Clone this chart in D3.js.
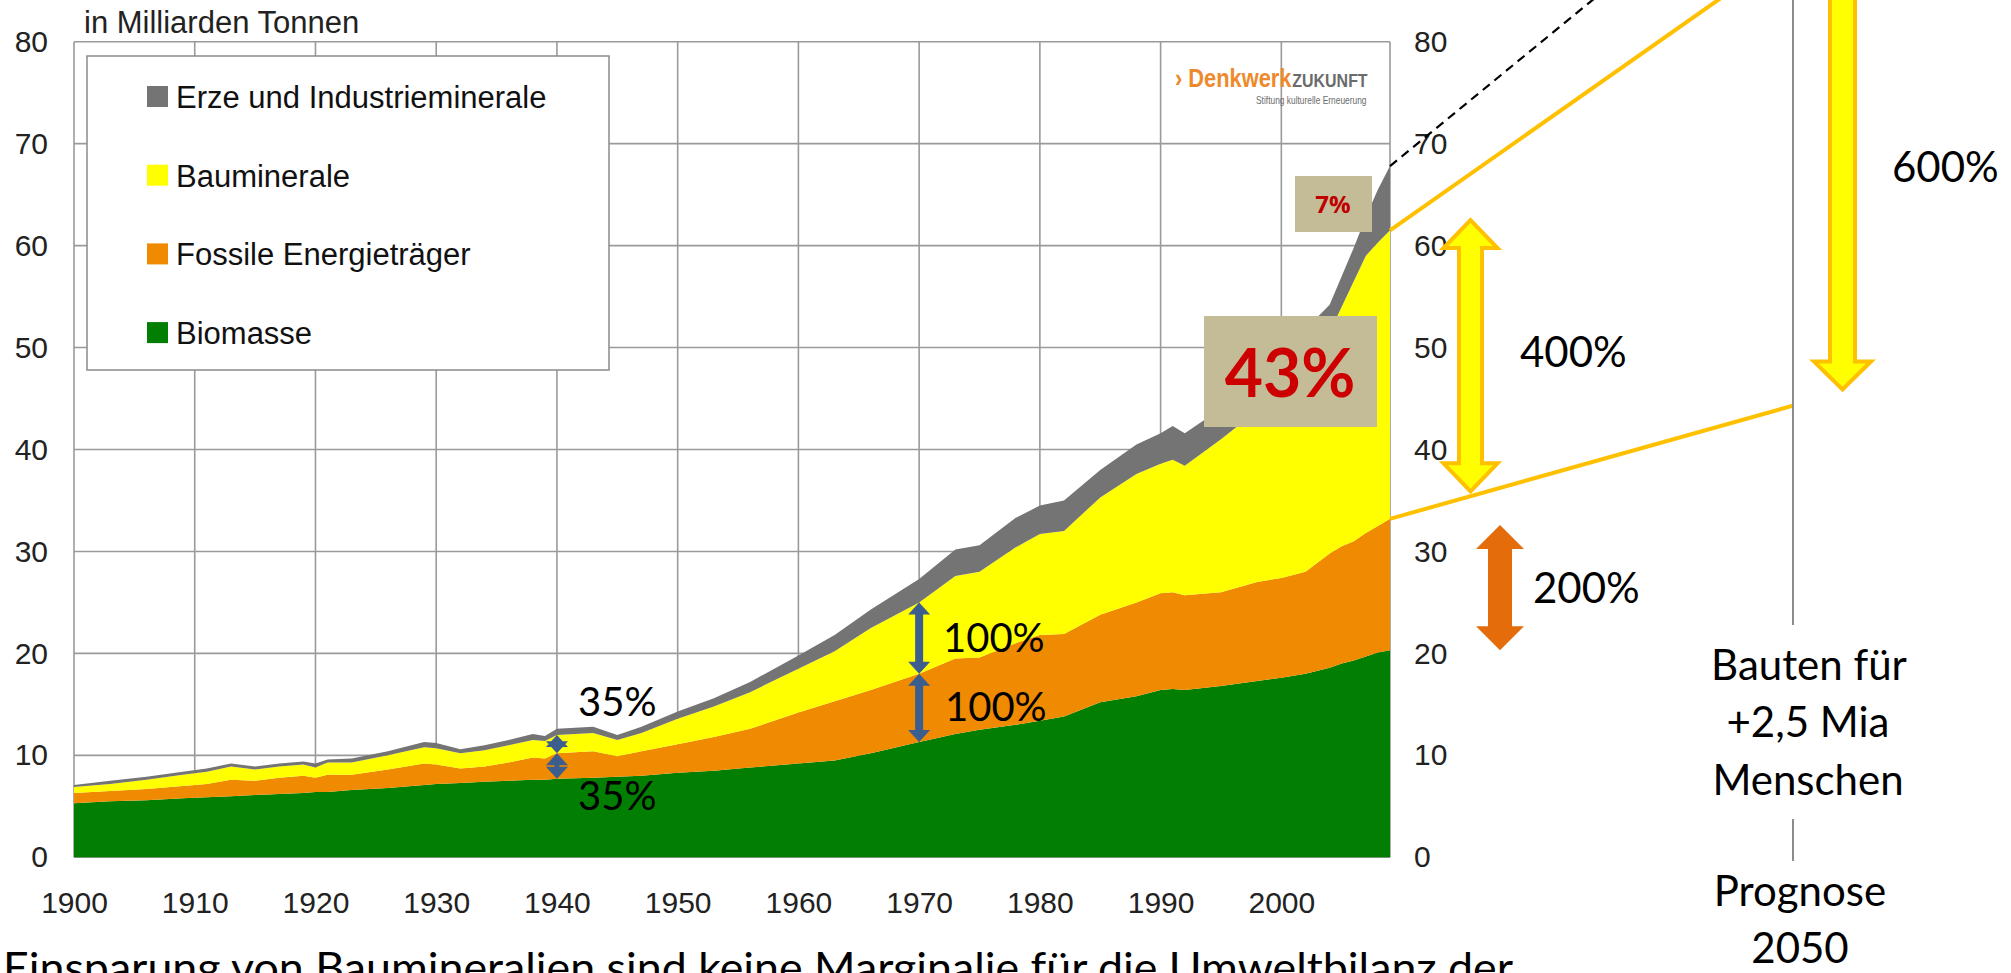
<!DOCTYPE html>
<html>
<head>
<meta charset="utf-8">
<script src="https://cdn.jsdelivr.net/npm/d3@7"></script>
<style>
  html, body { margin: 0; padding: 0; background: #fff; overflow: hidden; }
  svg { display: block; }
</style>
</head>
<body>
<div id="vis"></div>
<script>
// frame
const FRAME_WIDTH = 2011;
const FRAME_HEIGHT = 973;

// data (Milliarden Tonnen)
const years = [1900, 1903, 1906, 1909, 1911, 1913, 1915, 1917, 1919, 1920, 1921, 1923, 1926, 1929, 1930,
  1932, 1934, 1936, 1938, 1939, 1940, 1943, 1945, 1947, 1950, 1953, 1956, 1960, 1963, 1966,
  1970, 1973, 1975, 1978, 1980, 1982, 1985, 1988, 1990, 1991, 1992, 1995, 1998, 2000, 2002,
  2004, 2005, 2006, 2007, 2008, 2009];
const biomasse = [5.3, 5.5, 5.6, 5.8, 5.9, 6.0, 6.1, 6.2, 6.3, 6.4, 6.4, 6.6, 6.8, 7.1, 7.2,
  7.3, 7.4, 7.5, 7.6, 7.6, 7.7, 7.8, 7.9, 8.0, 8.3, 8.5, 8.8, 9.2, 9.5, 10.2,
  11.3, 12.1, 12.5, 13.0, 13.4, 13.8, 15.2, 15.8, 16.4, 16.5, 16.4, 16.8, 17.3, 17.6, 18.0,
  18.6, 19.0, 19.3, 19.7, 20.1, 20.3];
const fossile = [1.0, 1.0, 1.1, 1.2, 1.3, 1.6, 1.4, 1.6, 1.7, 1.4, 1.7, 1.5, 1.8, 2.1, 1.9,
  1.4, 1.5, 1.8, 2.2, 2.1, 2.5, 2.6, 2.0, 2.4, 2.8, 3.3, 3.8, 5.0, 5.8, 6.2,
  6.7, 7.4, 7.1, 8.0, 8.4, 8.1, 8.6, 9.2, 9.5, 9.5, 9.3, 9.2, 9.7, 9.8, 10.0,
  11.2, 11.5, 11.7, 12.1, 12.4, 12.9];
const baumineralien = [0.6, 0.7, 0.9, 1.1, 1.2, 1.3, 1.1, 1.1, 1.1, 1.0, 1.2, 1.2, 1.4, 1.6, 1.6,
  1.5, 1.6, 1.7, 1.7, 1.7, 1.8, 1.8, 1.6, 1.8, 2.5, 3.0, 3.6, 4.3, 4.9, 6.1,
  7.0, 8.1, 8.4, 9.4, 9.9, 10.1, 11.5, 12.6, 12.7, 13.0, 12.7, 15.0, 16.8, 18.1, 20.0,
  21.7, 23.5, 25.5, 27.2, 27.8, 28.3];
const erze = [0.2, 0.3, 0.3, 0.3, 0.3, 0.3, 0.3, 0.3, 0.3, 0.4, 0.3, 0.4, 0.4, 0.5, 0.5,
  0.4, 0.5, 0.5, 0.6, 0.5, 0.6, 0.6, 0.5, 0.6, 0.7, 0.8, 1.0, 1.3, 1.6, 1.8,
  2.3, 2.6, 2.6, 2.9, 2.8, 3.0, 2.7, 2.9, 3.0, 3.3, 3.2, 3.0, 3.2, 4.0, 3.8,
  2.7, 3.0, 3.3, 3.8, 5.2, 6.3];

const seriesKeys = ["biomasse", "fossile", "bau", "erze"];
const seriesColors = ["#027F02", "#F08A00", "#FFFF00", "#747474"];
const legendNames = ["Erze und Industrieminerale", "Bauminerale", "Fossile Energieträger", "Biomasse"];
const legendColors = ["#747474", "#FFFF00", "#F08A00", "#027F02"];

const yTicks = [0, 10, 20, 30, 40, 50, 60, 70, 80];
const xTicks = [1900, 1910, 1920, 1930, 1940, 1950, 1960, 1970, 1980, 1990, 2000];

// plot area
const PLOT = {left: 74, right: 1390, top: 41.7, bottom: 857.3};

const SVG = d3.select("#vis")
  .append("svg")
    .attr("width", FRAME_WIDTH)
    .attr("height", FRAME_HEIGHT);

const X_SCALE = d3.scaleLinear().domain([1900, 2009]).range([PLOT.left, PLOT.right]);
const Y_SCALE = d3.scaleLinear().domain([0, 80]).range([PLOT.bottom, PLOT.top]);

// grid
const grid = SVG.append("g").attr("stroke", "#9a9a9a").attr("stroke-width", 1.6);
grid.selectAll(".hg").data(yTicks).enter().append("line")
  .attr("x1", PLOT.left).attr("x2", PLOT.right)
  .attr("y1", d => Y_SCALE(d)).attr("y2", d => Y_SCALE(d));
grid.selectAll(".vg").data(xTicks).enter().append("line")
  .attr("x1", d => X_SCALE(d)).attr("x2", d => X_SCALE(d))
  .attr("y1", PLOT.top).attr("y2", PLOT.bottom);
grid.append("line")
  .attr("x1", PLOT.right).attr("x2", PLOT.right)
  .attr("y1", PLOT.top).attr("y2", PLOT.bottom);

// stacked areas
const table = years.map((yr, i) => ({
  year: yr, biomasse: biomasse[i], fossile: fossile[i], bau: baumineralien[i], erze: erze[i]
}));
const stacked = d3.stack().keys(seriesKeys)(table);
const area = d3.area()
  .x(d => X_SCALE(d.data.year))
  .y0(d => Y_SCALE(d[0]))
  .y1(d => Y_SCALE(d[1]));
SVG.append("g").selectAll("path").data(stacked).enter().append("path")
  .attr("d", area)
  .attr("fill", (d, i) => seriesColors[i]);

// axes
const axisFont = "'Liberation Sans', Arial, sans-serif";
function styleAxis(g) {
  g.select(".domain").remove();
  g.selectAll("text").attr("font-size", 30).attr("font-family", axisFont).attr("fill", "#222");
}
SVG.append("g").attr("transform", `translate(${PLOT.left},0)`)
  .call(d3.axisLeft(Y_SCALE).tickValues(yTicks).tickSize(0).tickPadding(26))
  .call(styleAxis);
SVG.append("g").attr("transform", `translate(${PLOT.right},0)`)
  .call(d3.axisRight(Y_SCALE).tickValues(yTicks).tickSize(0).tickPadding(24))
  .call(styleAxis);
SVG.append("g").attr("transform", `translate(0,${PLOT.bottom})`)
  .call(d3.axisBottom(X_SCALE).tickValues(xTicks).tickFormat(d3.format("d")).tickSize(0).tickPadding(34))
  .call(styleAxis);

SVG.append("text").attr("x", 84).attr("y", 33)
  .attr("font-family", axisFont).attr("font-size", 31).attr("fill", "#222")
  .text("in Milliarden Tonnen");

// legend
const legend = SVG.append("g");
legend.append("rect").attr("x", 87).attr("y", 56).attr("width", 522).attr("height", 314)
  .attr("fill", "#fff").attr("stroke", "#8a8a8a").attr("stroke-width", 1.5);
legendNames.forEach((name, i) => {
  const cy = 97 + i * 78.7;
  legend.append("rect").attr("x", 147).attr("y", cy - 11).attr("width", 21).attr("height", 21)
    .attr("fill", legendColors[i]);
  legend.append("text").attr("x", 176).attr("y", cy + 11)
    .attr("font-family", axisFont).attr("font-size", 31).attr("fill", "#111")
    .text(name);
});

// logo (squeezed horizontally like the narrow original)
const logoG = SVG.append("g").attr("transform", "translate(1175,87) scale(0.84,1)");
const logo = logoG.append("text").attr("x", 0).attr("y", 0)
  .attr("font-family", axisFont).attr("font-weight", "bold");
logo.append("tspan").attr("font-size", 26).attr("fill", "#EE8A2C").text("› Denkwerk");
logo.append("tspan").attr("font-size", 19).attr("fill", "#6b6b6b").attr("dx", 1).text("ZUKUNFT");
logoG.append("text").attr("x", 228).attr("y", 17)
  .attr("font-family", axisFont).attr("font-size", 10).attr("fill", "#6b6b6b")
  .attr("text-anchor", "end")
  .text("Stiftung kulturelle Erneuerung");

// arrow helpers
function dblArrow(cx, yTop, yBot, headW, headH, shaftW) {
  const hw = headW / 2, sw = shaftW / 2;
  return `M${cx},${yTop} L${cx + hw},${yTop + headH} L${cx + sw},${yTop + headH} L${cx + sw},${yBot - headH} ` +
    `L${cx + hw},${yBot - headH} L${cx},${yBot} L${cx - hw},${yBot - headH} L${cx - sw},${yBot - headH} ` +
    `L${cx - sw},${yTop + headH} L${cx - hw},${yTop + headH} Z`;
}
function downArrow(cx, yTop, yBot, headW, headH, shaftW) {
  const hw = headW / 2, sw = shaftW / 2;
  return `M${cx - sw},${yTop} L${cx + sw},${yTop} L${cx + sw},${yBot - headH} L${cx + hw},${yBot - headH} ` +
    `L${cx},${yBot} L${cx - hw},${yBot - headH} L${cx - sw},${yBot - headH} Z`;
}

const annoFont = "Lato, 'Open Sans', sans-serif";
function label(x, y, txt, size, anchor) {
  SVG.append("text").attr("x", x).attr("y", y)
    .attr("font-family", annoFont).attr("font-size", size)
    .attr("text-anchor", anchor || "start").attr("fill", "#000")
    .text(txt);
}

// blue arrows on the stack at 1940 and 1970
const layerAt = (k, yr) => stacked[k][years.indexOf(yr)];
[1940, 1970].forEach(yr => {
  const cx = X_SCALE(yr);
  const w = yr === 1940 ? 5 : 8;
  SVG.append("path")
    .attr("d", dblArrow(cx, Y_SCALE(layerAt(2, yr)[1]), Y_SCALE(layerAt(1, yr)[1]), 22, 12, w))
    .attr("fill", "#3B5E8F");
  SVG.append("path")
    .attr("d", dblArrow(cx, Y_SCALE(layerAt(1, yr)[1]), Y_SCALE(layerAt(0, yr)[1]), 22, 12, w))
    .attr("fill", "#3B5E8F");
});
label(578, 716, "35%", 40);
label(578, 810, "35%", 40);
label(943, 652, "100%", 40);
label(945, 721, "100%", 40);

// boxes with percentages
SVG.append("rect").attr("x", 1295).attr("y", 176).attr("width", 77).attr("height", 56).attr("fill", "#C4BC97");
SVG.append("text").attr("x", 1333).attr("y", 213)
  .attr("font-family", "'Open Sans', Lato, sans-serif").attr("font-weight", "bold").attr("font-size", 24)
  .attr("text-anchor", "middle").attr("fill", "#C00000").text("7%");
SVG.append("rect").attr("x", 1204).attr("y", 316).attr("width", 173).attr("height", 111).attr("fill", "#C4BC97");
SVG.append("text").attr("x", 1290).attr("y", 397)
  .attr("font-family", annoFont).attr("font-weight", "bold").attr("font-size", 66)
  .attr("text-anchor", "middle").attr("fill", "#CC0000").text("43%");

// connecting lines to the forecast
const endX = X_SCALE(2009);
const last = years.length - 1;
const totalEnd = stacked[3][last][1];
const bauEnd = stacked[2][last][1];
const fosEnd = stacked[1][last][1];
SVG.append("line")
  .attr("x1", endX).attr("y1", Y_SCALE(totalEnd))
  .attr("x2", endX + 330).attr("y2", Y_SCALE(totalEnd) - 330 * 0.82)
  .attr("stroke", "#000").attr("stroke-width", 2.2).attr("stroke-dasharray", "9,6");
SVG.append("line")
  .attr("x1", endX).attr("y1", Y_SCALE(bauEnd))
  .attr("x2", 1793).attr("y2", Y_SCALE(bauEnd) - 403 * 0.702)
  .attr("stroke", "#FFC000").attr("stroke-width", 4);
SVG.append("line")
  .attr("x1", endX).attr("y1", Y_SCALE(fosEnd))
  .attr("x2", 1793).attr("y2", Y_SCALE(44.3))
  .attr("stroke", "#FFC000").attr("stroke-width", 4);

// forecast column
SVG.append("line").attr("x1", 1793).attr("x2", 1793).attr("y1", 0).attr("y2", 625)
  .attr("stroke", "#8c8c8c").attr("stroke-width", 2);
SVG.append("line").attr("x1", 1793).attr("x2", 1793).attr("y1", 819).attr("y2", 861)
  .attr("stroke", "#8c8c8c").attr("stroke-width", 2);

// yellow / orange arrows
SVG.append("path").attr("d", dblArrow(1470.5, Y_SCALE(62.7) + 2, Y_SCALE(35.7) - 2, 54, 28, 23))
  .attr("fill", "#FFFF00").attr("stroke", "#FFC000").attr("stroke-width", 4);
SVG.append("path").attr("d", downArrow(1842.5, -10, Y_SCALE(45.7) - 2, 57, 28, 25))
  .attr("fill", "#FFFF00").attr("stroke", "#FFC000").attr("stroke-width", 4);
SVG.append("path").attr("d", dblArrow(1500, Y_SCALE(32.6), Y_SCALE(20.3), 48, 24, 24))
  .attr("fill", "#E46C0A");

label(1520, 367, "400%", 42);
label(1892, 182, "600%", 42);
label(1533, 603, "200%", 42);

label(1809, 680, "Bauten für", 42, "middle");
label(1808, 737, "+2,5 Mia", 42, "middle");
label(1808, 795, "Menschen", 42, "middle");
label(1800, 906, "Prognose", 42, "middle");
label(1800, 963, "2050", 42, "middle");

// caption at the bottom (cut by the picture edge, as in the source)
SVG.append("text").attr("x", 3).attr("y", 983)
  .attr("font-family", annoFont).attr("font-size", 42).attr("fill", "#000")
  .attr("textLength", 1510).attr("lengthAdjust", "spacingAndGlyphs")
  .text("Einsparung von Baumineralien sind keine Marginalie für die Umweltbilanz der");
</script>
</body>
</html>
